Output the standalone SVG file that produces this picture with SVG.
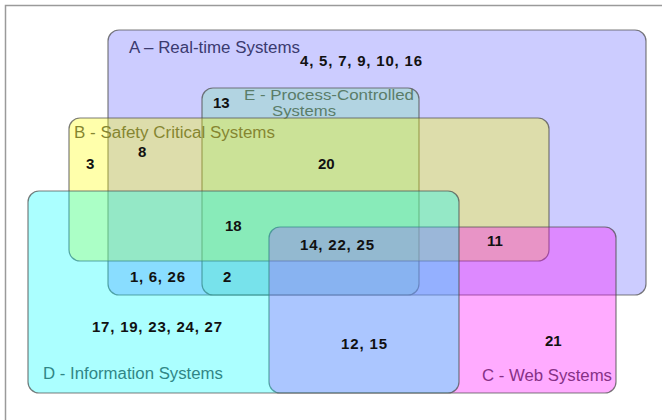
<svg xmlns="http://www.w3.org/2000/svg" width="662" height="420" viewBox="0 0 662 420">
<style>
.set{stroke:#505050;stroke-opacity:0.75;stroke-width:1.2}
.lbl{font-family:"Liberation Sans",Arial,sans-serif;font-size:16px;fill:#4a4a4a}
.num{font-family:"Liberation Sans",Arial,sans-serif;font-size:15px;font-weight:bold;fill:#111}
</style>
<rect x="0" y="0" width="662" height="420" fill="#ffffff"/>
<path d="M5.5 420 V5.5 H662" fill="none" stroke="#9a9a9a" stroke-width="1.5"/>
<g id="setA">
<text class="lbl" x="129" y="53" textLength="171" lengthAdjust="spacingAndGlyphs">A – Real-time Systems</text>
<rect class="set" x="108" y="30" width="538" height="265" rx="11" fill="rgb(0,0,255)" fill-opacity="0.2"/>
</g>
<g id="setE">
<text class="lbl" x="244" y="100" textLength="170" lengthAdjust="spacingAndGlyphs" style="font-size:15px">E - Process-Controlled</text>
<text class="lbl" x="272" y="116" textLength="64" lengthAdjust="spacingAndGlyphs" style="font-size:15px">Systems</text>
<rect class="set" x="202" y="88" width="217" height="207" rx="11" fill="rgb(124,227,167)" fill-opacity="0.33"/>
</g>
<g id="setB">
<text class="lbl" x="74" y="138" textLength="201" lengthAdjust="spacingAndGlyphs">B - Safety Critical Systems</text>
<rect class="set" x="69" y="118" width="480" height="143" rx="11" fill="rgb(255,255,0)" fill-opacity="0.33"/>
</g>
<g id="setC">
<text class="lbl" x="482" y="381" textLength="130" lengthAdjust="spacingAndGlyphs">C - Web Systems</text>
<rect class="set" x="269" y="227" width="347" height="166" rx="11" fill="rgb(255,0,255)" fill-opacity="0.33"/>
</g>
<g id="setD">
<text class="lbl" x="43" y="379" textLength="180" lengthAdjust="spacingAndGlyphs">D - Information Systems</text>
<rect class="set" x="28" y="191" width="431" height="202" rx="11" fill="rgb(0,255,255)" fill-opacity="0.33"/>
</g>
<g id="connectors"></g>
<g id="regions">
<text class="num" x="300" y="66" textLength="122" lengthAdjust="spacing">4, 5, 7, 9, 10, 16</text>
<text class="num" x="213" y="108">13</text>
<text class="num" x="138" y="157">8</text>
<text class="num" x="86" y="169">3</text>
<text class="num" x="318" y="169">20</text>
<text class="num" x="225" y="231">18</text>
<text class="num" x="300" y="250" textLength="74" lengthAdjust="spacing">14, 22, 25</text>
<text class="num" x="487" y="246">11</text>
<text class="num" x="130" y="282" textLength="55" lengthAdjust="spacing">1, 6, 26</text>
<text class="num" x="223" y="282">2</text>
<text class="num" x="92" y="332" textLength="130" lengthAdjust="spacing">17, 19, 23, 24, 27</text>
<text class="num" x="341" y="349" textLength="46" lengthAdjust="spacing">12, 15</text>
<text class="num" x="545" y="346">21</text>
</g>
</svg>
